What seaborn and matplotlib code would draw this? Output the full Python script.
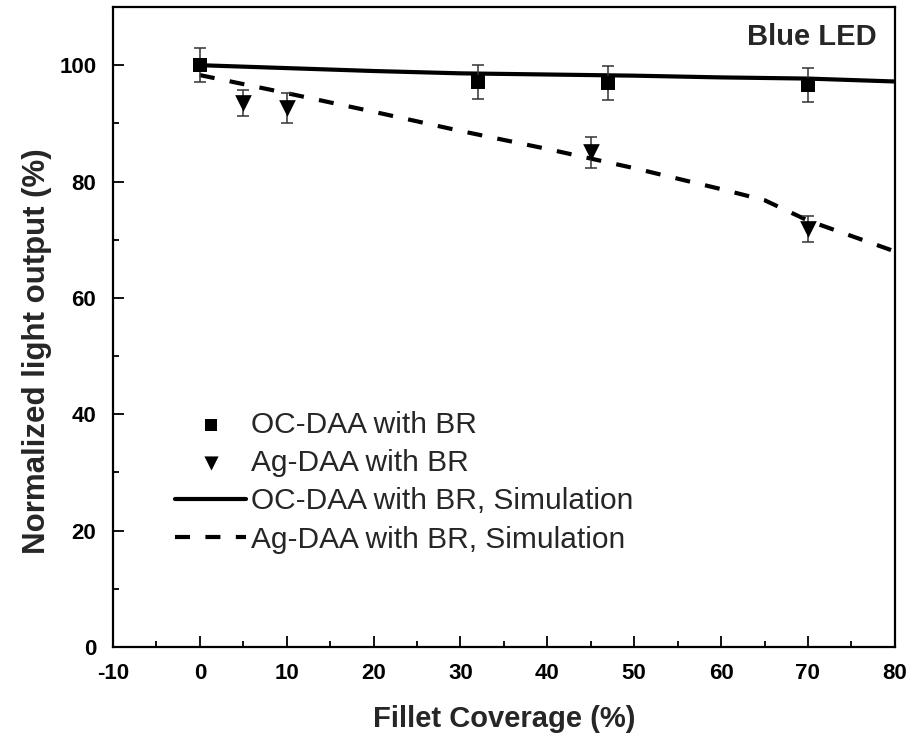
import matplotlib
matplotlib.use("Agg")
import matplotlib.pyplot as plt
from matplotlib.ticker import MultipleLocator
import seaborn as sns
import pandas as pd

# Measured light output (normalized, %) with error bars
oc_x = [0, 32, 47, 70]
oc_y = [100.0, 97.1, 96.9, 96.6]
oc_err = [2.9, 2.9, 2.9, 2.85]

ag_x = [5, 10, 45, 70]
ag_y = [93.5, 92.7, 85.0, 71.8]
ag_err = [2.2, 2.6, 2.6, 2.2]

# Simulated light output versus fillet coverage
sim_x = [0, 10, 20, 30, 40, 50, 60, 65, 70, 80]
oc_sim = [100.0, 99.5, 99.0, 98.6, 98.4, 98.2, 97.9, 97.8, 97.7, 97.2]
ag_sim = [98.3, 95.2, 92.0, 88.7, 85.6, 82.3, 78.7, 76.8, 73.3, 68.0]

x_ticks = [-10, 0, 10, 20, 30, 40, 50, 60, 70, 80]
y_ticks = [0, 20, 40, 60, 80, 100]

sns.set_style("ticks")
plt.rcParams["font.family"] = ["Liberation Sans", "DejaVu Sans"]
plt.rcParams["axes.unicode_minus"] = False

fig = plt.figure(figsize=(9.14, 7.38), dpi=100)
ax = fig.add_axes([0.1236, 0.1233, 0.979 - 0.1236, 0.9905 - 0.1233])

sim_df = pd.DataFrame({
    "x": sim_x * 2,
    "y": oc_sim + ag_sim,
    "series": ["OC-DAA with BR, Simulation"] * len(sim_x)
              + ["Ag-DAA with BR, Simulation"] * len(sim_x),
})

# Measured points with error bars
ax.errorbar(oc_x, oc_y, yerr=oc_err, fmt="none", ecolor="#333333",
            elinewidth=1.1, capsize=4.3, capthick=1.1, zorder=3)
ax.errorbar(ag_x, ag_y, yerr=ag_err, fmt="none", ecolor="#333333",
            elinewidth=1.1, capsize=4.3, capthick=1.1, zorder=3)
sns.scatterplot(x=oc_x, y=oc_y, marker="s", s=9.5 ** 2, color="black",
                edgecolor="black", linewidth=0, ax=ax, zorder=4,
                label="OC-DAA with BR")
sns.scatterplot(x=ag_x, y=ag_y, marker="v", s=12 ** 2, color="black",
                edgecolor="black", linewidth=0, ax=ax, zorder=4,
                label="Ag-DAA with BR")

# Simulation curves
sns.lineplot(data=sim_df, x="x", y="y", hue="series", style="series",
             palette=["black", "black"], dashes=["", (3.6, 3.7)],
             linewidth=3, ax=ax, zorder=2, legend=False)
lines = ax.get_lines()
lines[-2].set_label("OC-DAA with BR, Simulation")
lines[-1].set_label("Ag-DAA with BR, Simulation")

ax.set_xlim(-10, 80)
ax.set_ylim(0, 110)
ax.set_xticks(x_ticks)
ax.set_yticks(y_ticks)
ax.xaxis.set_minor_locator(MultipleLocator(5))
ax.yaxis.set_minor_locator(MultipleLocator(10))
ax.tick_params(which="both", direction="in", top=False, right=False,
               width=1.3, colors="black")
ax.tick_params(which="major", length=8)
ax.tick_params(which="minor", length=4)
ax.tick_params(axis="x", which="major", pad=11.5)
ax.tick_params(axis="y", which="major", pad=12)
for lab in ax.get_xticklabels() + ax.get_yticklabels():
    lab.set_fontweight("bold")
    lab.set_fontsize(16)
for sp in ax.spines.values():
    sp.set_linewidth(1.6)
    sp.set_color("black")

ax.set_xlabel("Fillet Coverage (%)", fontsize=21, fontweight="bold", labelpad=15)
ax.set_ylabel("Normalized light output (%)", fontsize=22.5, fontweight="bold")
ax.yaxis.set_label_coords(-0.078, 0.4625)

ax.text(0.977, 0.953, "Blue LED", transform=ax.transAxes, ha="right",
        va="center", fontsize=21, fontweight="bold")

handles, labels = ax.get_legend_handles_labels()
order = ["OC-DAA with BR", "Ag-DAA with BR",
         "OC-DAA with BR, Simulation", "Ag-DAA with BR, Simulation"]
hmap = dict(zip(labels, handles))
ax.legend([hmap[k] for k in order], order, loc="upper left",
          bbox_to_anchor=(0.0608, 0.392), frameon=False, fontsize=21.5,
          handlelength=2.35, handletextpad=0.18, labelspacing=0.34,
          borderpad=0, markerscale=0.85)

fig.savefig("out.png", dpi=100)
